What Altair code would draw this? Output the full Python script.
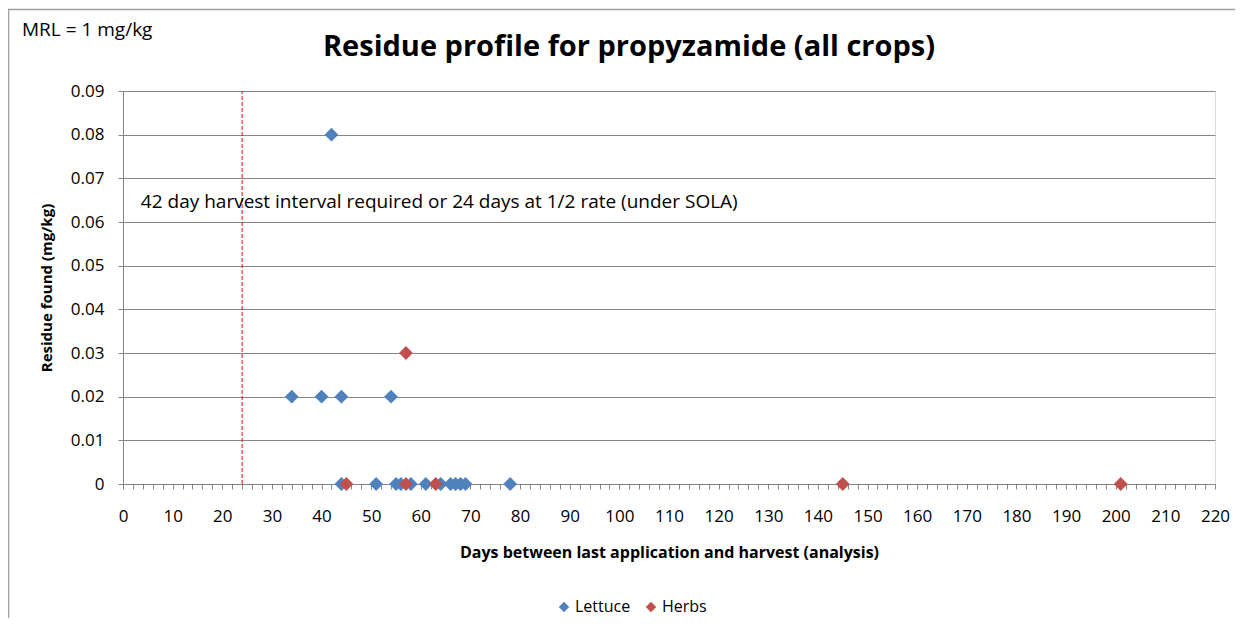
import altair as alt
import pandas as pd

# Data
lettuce_days = [42, 34, 40, 44, 54, 44, 51, 55, 56, 58, 61, 64, 66, 67, 68, 69, 78]
lettuce_res = [0.08, 0.02, 0.02, 0.02, 0.02, 0, 0, 0, 0, 0, 0, 0, 0, 0, 0, 0, 0]
herbs_days = [57, 45, 57, 63, 145, 201]
herbs_res = [0.03, 0, 0, 0, 0, 0]

series = ["Lettuce", "Herbs"]
colors = ["#4F81BD", "#C0504D"]

harvest_interval = [24]
annotation = ["42 day harvest interval required or 24 days at 1/2 rate (under SOLA)"]
annotation_x = [3.6]
annotation_y = [0.0645]
mrl_text = ["MRL = 1 mg/kg"]
title_text = ["Residue profile for propyzamide (all crops)"]
x_ticks = list(range(0, 221, 2))
y_ticks = [0, 0.01, 0.02, 0.03, 0.04, 0.05, 0.06, 0.07, 0.08, 0.09]

FONT = "Open Sans"
GRAY = "#868686"

pts = pd.DataFrame({
    "days": lettuce_days + herbs_days,
    "res": lettuce_res + herbs_res,
    "crop": ["Lettuce"] * len(lettuce_days) + ["Herbs"] * len(herbs_days),
    "order": list(range(len(lettuce_days) + len(herbs_days))),
})

xscale = alt.Scale(domain=[0, 220], nice=False, zero=True)
yscale = alt.Scale(domain=[0, 0.09], nice=False)

points = alt.Chart(pts).mark_point(
    shape="diamond", filled=True, size=190, opacity=1
).encode(
    x=alt.X("days:Q", scale=xscale, axis=alt.Axis(
        values=x_ticks, tickCount=500, labelOverlap=False, labelFlush=False,
        labelExpr="datum.value % 10 == 0 ? datum.value : ''",
        title="Days between last application  and harvest (analysis)",
        grid=False, tickSize=5, labelPadding=19, titlePadding=20,
        domainColor=GRAY, tickColor=GRAY, labelFontSize=17, labelFont=FONT,
        labelColor="#000", titleFont=FONT, titleFontSize=16, titleFontWeight="bold",
        titleColor="#000",
    )),
    y=alt.Y("res:Q", scale=yscale, axis=alt.Axis(
        values=y_ticks, labelOverlap=False, labelFlush=False,
        labelExpr="datum.value == 0 ? '0' : format(datum.value, '.2f')",
        title="Residue found  (mg/kg)",
        grid=True, gridColor=GRAY, tickSize=5, labelPadding=14, titlePadding=16,
        domainColor=GRAY, tickColor=GRAY, labelFontSize=17, labelFont=FONT,
        labelColor="#000", titleFont=FONT, titleFontSize=15, titleFontWeight="bold",
        titleColor="#000",
    )),
    color=alt.Color("crop:N", scale=alt.Scale(domain=series, range=colors),
                    legend=alt.Legend(
                        title=None, orient="none", direction="horizontal",
                        legendX=433, legendY=508, symbolType="diamond",
                        symbolSize=110, labelFont=FONT, labelFontSize=16,
                        labelColor="#000", columnPadding=12, symbolOffset=0,
                        labelOffset=3,
                    )),
    order="order:Q",
)

rule = alt.Chart(pd.DataFrame({"d": harvest_interval, "y0": [0], "y1": [0.09]})).mark_rule(
    color="#FF0000", strokeDash=[4, 2], strokeWidth=1
).encode(x=alt.X("d:Q", scale=xscale), y=alt.Y("y0:Q", scale=yscale), y2="y1:Q")

note = alt.Chart(pd.DataFrame({"t": annotation, "x": annotation_x, "y": annotation_y})).mark_text(
    align="left", baseline="middle", font=FONT, fontSize=19, color="#000"
).encode(x=alt.X("x:Q", scale=xscale), y=alt.Y("y:Q", scale=yscale), text="t:N")

mrl = alt.Chart(pd.DataFrame({"t": mrl_text})).mark_text(
    align="left", baseline="middle", font=FONT, fontSize=19, color="#000"
).encode(x=alt.value(-101), y=alt.value(-61), text="t:N")

title = alt.Chart(pd.DataFrame({"t": title_text})).mark_text(
    align="center", baseline="middle", font=FONT, fontSize=29, fontWeight="bold", color="#000"
).encode(x=alt.value(506), y=alt.value(-44), text="t:N")

border = alt.Chart(pd.DataFrame({"t": [0]})).mark_rect(
    fill=None, stroke="#A0A0A0", strokeWidth=1.5, clip=False
).encode(x=alt.value(-114.5), x2=alt.value(1300), y=alt.value(-81.5), y2=alt.value(700))

chart = alt.layer(border, rule, points, note, mrl, title).properties(
    width=1092, height=393,
    autosize=alt.AutoSizeParams(type="none"),
    padding={"left": 115, "top": 83, "right": 20, "bottom": 134},
).configure_view(stroke=None).configure(background="white")

chart.save("out.html", embed_options={"renderer": "svg", "actions": False})
